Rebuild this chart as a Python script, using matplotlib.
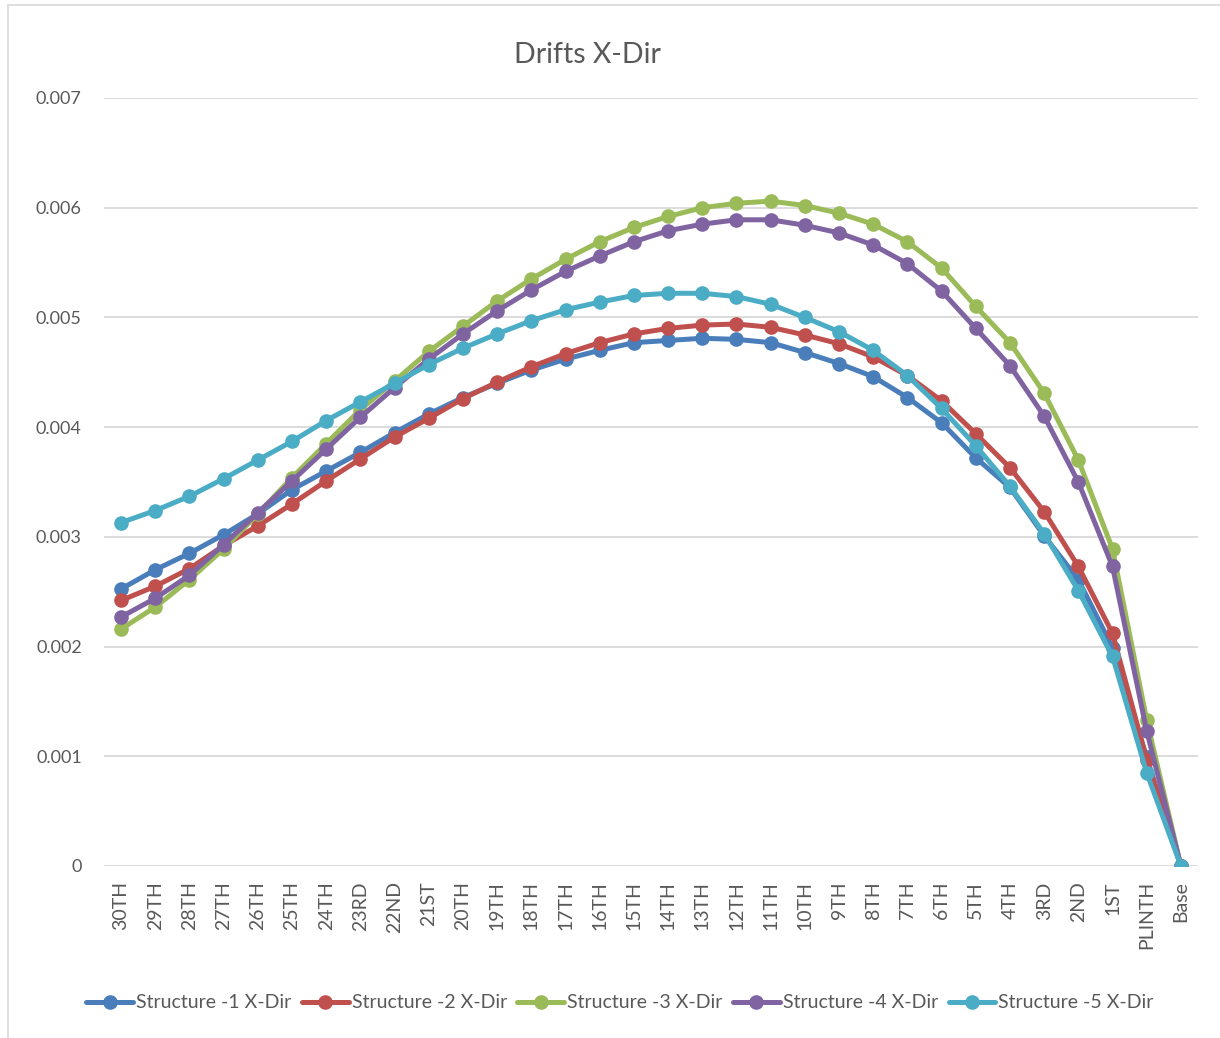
import matplotlib
matplotlib.use("Agg")
import matplotlib.pyplot as plt
from matplotlib.patches import Rectangle

plt.rcParams['font.family'] = ['Lato', 'DejaVu Sans']

categories = ["30TH", "29TH", "28TH", "27TH", "26TH", "25TH", "24TH", "23RD", "22ND", "21ST",
              "20TH", "19TH", "18TH", "17TH", "16TH", "15TH", "14TH", "13TH", "12TH", "11TH",
              "10TH", "9TH", "8TH", "7TH", "6TH", "5TH", "4TH", "3RD", "2ND", "1ST", "PLINTH", "Base"]

structure_1 = [0.002525, 0.00270, 0.00285, 0.00302, 0.00321, 0.00343, 0.00360, 0.00377, 0.00395, 0.00412,
               0.00427, 0.00440, 0.00452, 0.00462, 0.00470, 0.00477, 0.00479, 0.00481, 0.00480, 0.00477,
               0.00468, 0.00458, 0.00446, 0.00427, 0.00404, 0.00372, 0.00345, 0.00301, 0.00261, 0.00199,
               0.00099, 0.0]
structure_2 = [0.00242, 0.00255, 0.00271, 0.00292, 0.00310, 0.00330, 0.00351, 0.00371, 0.00391, 0.00408,
               0.00426, 0.00441, 0.00455, 0.00467, 0.00477, 0.00485, 0.00490, 0.00493, 0.00494, 0.00491,
               0.00484, 0.00476, 0.00464, 0.00447, 0.00424, 0.00394, 0.00363, 0.00323, 0.00273, 0.00212,
               0.00097, 0.0]
structure_3 = [0.00216, 0.00236, 0.00261, 0.00289, 0.00321, 0.00354, 0.00385, 0.00416, 0.00442, 0.00469,
               0.00492, 0.00515, 0.00535, 0.00553, 0.00569, 0.00582, 0.00592, 0.00600, 0.00604, 0.00606,
               0.00602, 0.00595, 0.00585, 0.00569, 0.00545, 0.00510, 0.00477, 0.00431, 0.00370, 0.00289,
               0.00133, 0.0]
structure_4 = [0.00227, 0.00244, 0.00265, 0.00293, 0.00322, 0.00351, 0.00380, 0.00409, 0.00436, 0.00462,
               0.00485, 0.00506, 0.00525, 0.00542, 0.00556, 0.00569, 0.00579, 0.00585, 0.00589, 0.00589,
               0.00584, 0.00577, 0.00566, 0.00549, 0.00524, 0.00490, 0.00456, 0.00410, 0.00350, 0.00273,
               0.00123, 0.0]
structure_5 = [0.00313, 0.00324, 0.00337, 0.00353, 0.00370, 0.00387, 0.00406, 0.00423, 0.00440, 0.00457,
               0.00472, 0.00485, 0.00497, 0.00507, 0.00514, 0.00520, 0.00522, 0.00522, 0.00519, 0.00512,
               0.00500, 0.00487, 0.00470, 0.00447, 0.00417, 0.00383, 0.00346, 0.00303, 0.00251, 0.00191,
               0.00085, 0.0]

series_names = ["Structure -1 X-Dir", "Structure -2 X-Dir", "Structure -3 X-Dir",
                "Structure -4 X-Dir", "Structure -5 X-Dir"]
series_values = [structure_1, structure_2, structure_3, structure_4, structure_5]
colors = ["#4A7EBB", "#C0504D", "#9BBB59", "#8064A2", "#4BACC6"]

y_ticks = [0, 0.001, 0.002, 0.003, 0.004, 0.005, 0.006, 0.007]
y_tick_labels = ["0", "0.001", "0.002", "0.003", "0.004", "0.005", "0.006", "0.007"]

W, H = 1220, 1038
fig = plt.figure(figsize=(W / 100, H / 100), dpi=100)
fig.patch.set_facecolor("white")

# chart border
fig.add_artist(Rectangle((8 / W, -0.05), 1.2, 1 - 5 / H + 0.05, transform=fig.transFigure,
                         fill=False, edgecolor="#d9d9d9", linewidth=1.2))

ax = fig.add_axes([104 / W, 1 - 866 / H, (1198 - 104) / W, (866 - 98) / H])
x = list(range(len(categories)))
for name, vals, c in zip(series_names, series_values, colors):
    ax.plot(x, vals, color=c, linewidth=3.6, marker="o", markersize=9.5,
            markerfacecolor=c, markeredgecolor=c, label=name, solid_capstyle="round")

ax.set_xlim(-0.5, len(categories) - 0.5)
ax.set_ylim(0, 0.007)
ax.set_yticks(y_ticks)
ax.set_yticklabels(y_tick_labels)
ax.set_xticks(x)
ax.set_xticklabels(categories, rotation=90)
ax.tick_params(axis="both", length=0, labelcolor="#595959")
ax.tick_params(axis="y", pad=16, labelsize=13)
ax.tick_params(axis="x", pad=11, labelsize=14)
for s in ax.spines.values():
    s.set_visible(False)
ax.grid(axis="y", color="#d9d9d9", linewidth=1.3)
ax.set_axisbelow(True)

fig.text(587 / W, 1 - 55 / H, "Drifts X-Dir", ha="center", va="center",
         fontsize=20.5, color="#595959")

leg = fig.legend(loc="center", bbox_to_anchor=(620 / W, 1 - 1003 / H), ncol=5,
                 frameon=False, fontsize=14, handlelength=2.4, handletextpad=0.15,
                 columnspacing=0.55, labelcolor="#595959")

fig.savefig("out.png", dpi=100, facecolor="white")
